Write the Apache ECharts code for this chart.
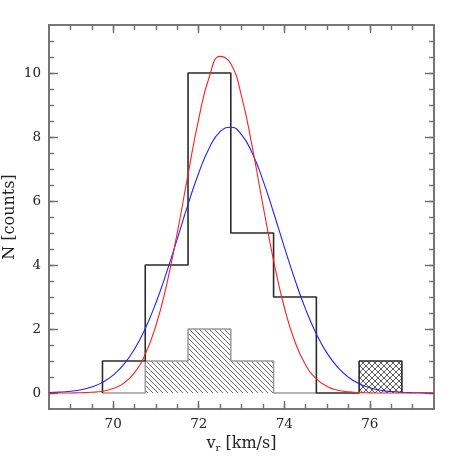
<!DOCTYPE html>
<html>
<head>
<meta charset="utf-8">
<script src="https://cdn.jsdelivr.net/npm/echarts@6/dist/echarts.min.js"></script>
<style>html,body{margin:0;padding:0;background:#fff;}#c{width:458px;height:458px;}</style>
</head>
<body>
<div id="c"></div>
<script>
// ---- data ----
const binEdges = [69.75, 70.75, 71.75, 72.75, 73.75, 74.75, 75.75, 76.75];
const allCounts = [1, 4, 10, 5, 3, 0, 1];
const subEdges = [69.75, 70.75, 71.75, 72.75, 73.75, 74.75];
const subCounts = [0, 1, 2, 1, 0];
const outlierEdges = [75.75, 76.75];
const outlierCounts = [1];

const curveX = [68.5, 68.75, 69.0, 69.25, 69.5, 69.75, 70.0, 70.25, 70.5, 70.75,
  71.0, 71.25, 71.5, 71.75, 72.0, 72.25, 72.5, 72.75, 73.0, 73.25,
  73.5, 73.75, 74.0, 74.25, 74.5, 74.75, 75.0, 75.25, 75.5, 75.75,
  76.0, 76.25, 76.5, 76.75, 77.0, 77.25, 77.5];
const redFit = [0, 0, 0.002, 0.008, 0.022, 0.057, 0.139, 0.310, 0.639, 1.21,
  2.11, 3.39, 5.02, 6.83, 8.57, 9.89, 10.52, 10.29, 9.28, 7.70,
  5.88, 4.14, 2.68, 1.60, 0.877, 0.444, 0.206, 0.088, 0.035, 0.013,
  0.004, 0.001, 0, 0, 0, 0, 0];
const blueFit = [0.012, 0.026, 0.053, 0.102, 0.188, 0.332, 0.557, 0.895, 1.374, 2.014,
  2.820, 3.775, 4.826, 5.893, 6.876, 7.666, 8.165, 8.307, 8.076, 7.500,
  6.654, 5.640, 4.568, 3.534, 2.612, 1.845, 1.245, 0.802, 0.494, 0.291,
  0.163, 0.088, 0.045, 0.022, 0.010, 0.005, 0.002];

const xMajorTicks = [70, 72, 74, 76];
const xMinorTicks = [69, 69.5, 70, 70.5, 71, 71.5, 72, 72.5, 73, 73.5, 74, 74.5, 75, 75.5, 76, 76.5, 77];
const yMajorTicks = [0, 2, 4, 6, 8, 10];
const yMinorTicks = [0, 0.5, 1, 1.5, 2, 2.5, 3, 3.5, 4, 4.5, 5, 5.5, 6, 6.5, 7, 7.5, 8, 8.5, 9, 9.5, 10, 10.5, 11];
const xRange = [68.5, 77.5];
const yRange = [-0.5, 11.5];

// ---- helpers ----
function stepPoints(edges, counts) {
  const pts = [[edges[0], 0]];
  for (let i = 0; i < counts.length; i++) pts.push([edges[i], counts[i]]);
  pts.push([edges[edges.length - 1], 0]);
  return pts;
}
function hatchPattern(size, cross, color) {
  const c = document.createElement('canvas');
  c.width = size; c.height = size;
  const g = c.getContext('2d');
  g.strokeStyle = color; g.lineWidth = 0.8;
  g.beginPath();
  g.moveTo(0, 0); g.lineTo(size, size);
  g.moveTo(-1, size - 1); g.lineTo(1, size + 1);
  g.moveTo(size - 1, -1); g.lineTo(size + 1, 1);
  if (cross) {
    g.moveTo(0, size); g.lineTo(size, 0);
    g.moveTo(-1, 1); g.lineTo(1, -1);
    g.moveTo(size - 1, size + 1); g.lineTo(size + 1, size - 1);
  }
  g.stroke();
  return { image: c, repeat: 'repeat' };
}

const frameColor = '#707070';
const font = 'DejaVu Serif';
function mkAxis(kind, pos, ticks, len, labels, extra) {
  const a = {
    type: 'value', position: pos, min: kind === 'x' ? xRange[0] : yRange[0],
    max: kind === 'x' ? xRange[1] : yRange[1],
    axisLine: { show: true, onZero: false, lineStyle: { color: frameColor, width: 1.6 } },
    axisTick: { show: true, inside: true, length: len, customValues: ticks, lineStyle: { color: frameColor, width: 1.4 } },
    axisLabel: labels ? { show: true, customValues: ticks, color: '#222', fontFamily: font, fontSize: 13.5,
      margin: 8 } : { show: false },
    splitLine: { show: false }
  };
  return Object.assign(a, extra || {});
}

const chart = echarts.init(document.getElementById('c'), null, { renderer: 'canvas' });
chart.setOption({
  animation: false,
  backgroundColor: '#fff',
  grid: { left: 49, right: 24, top: 25, bottom: 49, containLabel: false, outerBoundsMode: 'none' },
  xAxis: [
    mkAxis('x', 'bottom', xMajorTicks, 8, true, {
      name: 'v{sub|r} [km/s]', nameLocation: 'middle', nameGap: 26, nameMoveOverlap: false,
      nameTextStyle: { fontFamily: font, fontSize: 16, color: '#222', lineHeight: 18,
        rich: { sub: { fontFamily: font, fontSize: 10, color: '#222', verticalAlign: 'bottom', lineHeight: 10 } } }
    }),
    mkAxis('x', 'bottom', xMinorTicks, 5, false),
    mkAxis('x', 'top', xMajorTicks, 8, false),
    mkAxis('x', 'top', xMinorTicks, 5, false)
  ],
  yAxis: [
    mkAxis('y', 'left', yMajorTicks, 9, true, {
      name: 'N [counts]', nameLocation: 'middle', nameGap: 31, nameMoveOverlap: false,
      nameTextStyle: { fontFamily: font, fontSize: 16, color: '#222' }
    }),
    mkAxis('y', 'left', yMinorTicks, 5, false),
    mkAxis('y', 'right', yMajorTicks, 9, false),
    mkAxis('y', 'right', yMinorTicks, 5, false)
  ],
  series: [
    {
      type: 'line', step: 'end', symbol: 'none', data: stepPoints(subEdges, subCounts),
      lineStyle: { color: '#9a9a9a', width: 1.5 },
      areaStyle: { color: hatchPattern(5, false, '#444'), opacity: 1 }, z: 2
    },
    {
      type: 'line', symbol: 'none', step: 'end',
      data: [[outlierEdges[0], outlierCounts[0]], [outlierEdges[1], outlierCounts[0]]],
      lineStyle: { width: 0 },
      areaStyle: { color: hatchPattern(6, true, '#333'), opacity: 1 }, z: 2
    },
    {
      type: 'line', step: 'end', symbol: 'none', data: stepPoints(binEdges, allCounts),
      lineStyle: { color: '#2a2a2a', width: 1.6 }, z: 3
    },
    {
      type: 'line', symbol: 'none', smooth: true,
      data: curveX.map((x, i) => [x, blueFit[i]]),
      lineStyle: { color: '#2020ff', width: 1.1 }, z: 4
    },
    {
      type: 'line', symbol: 'none', smooth: true,
      data: curveX.map((x, i) => [x, redFit[i]]),
      lineStyle: { color: '#ff2020', width: 1.1 }, z: 5
    }
  ]
});
</script>
</body>
</html>
